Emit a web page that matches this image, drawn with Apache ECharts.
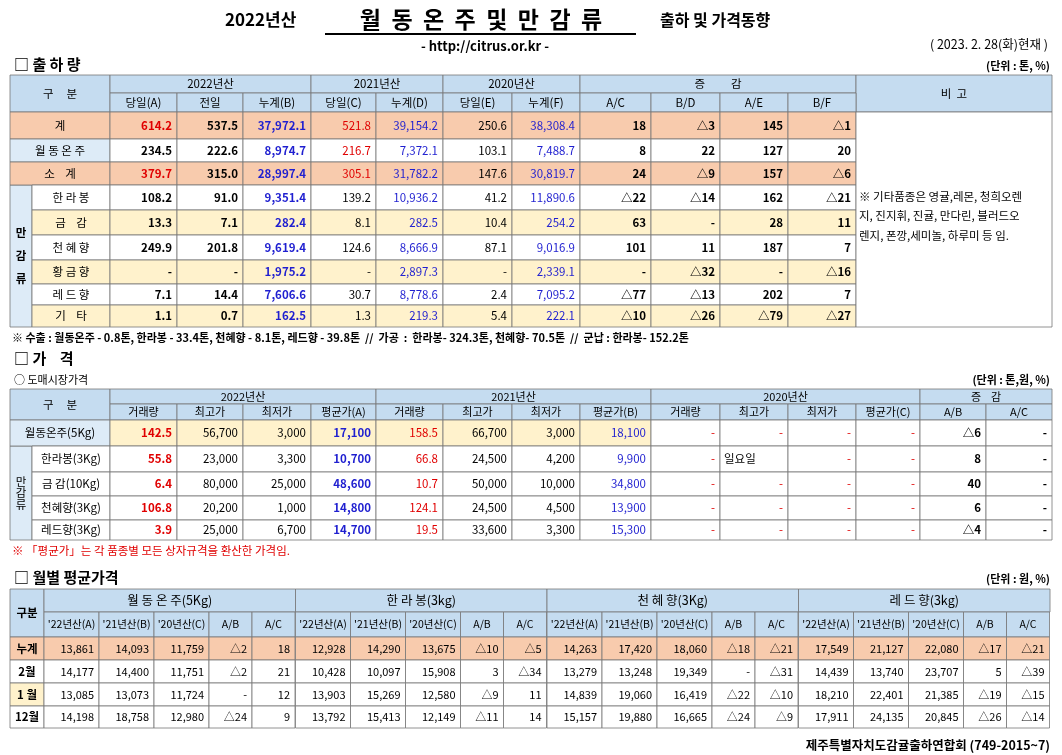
<!DOCTYPE html>
<html><head><meta charset="utf-8">
<script src="https://cdn.jsdelivr.net/npm/echarts@6/dist/echarts.min.js"></script>
<style>html,body{margin:0;background:#fff}#c{width:1062px;height:755px}</style>
</head><body><div id="c"></div>
<script>
// 출하량
const shipLabels = ['계', '월 동 온 주', '소    계', '한 라 봉', '금    감', '천 혜 향', '황 금 향', '레 드 향', '기    타'];
const shipHeaders = ['당일(A)', '전일', '누계(B)', '당일(C)', '누계(D)', '당일(E)', '누계(F)', 'A/C', 'B/D', 'A/E', 'B/F'];
const shipRows = [
  ['614.2', '537.5', '37,972.1', '521.8', '39,154.2', '250.6', '38,308.4', '18', '△3', '145', '△1'],
  ['234.5', '222.6', '8,974.7', '216.7', '7,372.1', '103.1', '7,488.7', '8', '22', '127', '20'],
  ['379.7', '315.0', '28,997.4', '305.1', '31,782.2', '147.6', '30,819.7', '24', '△9', '157', '△6'],
  ['108.2', '91.0', '9,351.4', '139.2', '10,936.2', '41.2', '11,890.6', '△22', '△14', '162', '△21'],
  ['13.3', '7.1', '282.4', '8.1', '282.5', '10.4', '254.2', '63', '-', '28', '11'],
  ['249.9', '201.8', '9,619.4', '124.6', '8,666.9', '87.1', '9,016.9', '101', '11', '187', '7'],
  ['-', '-', '1,975.2', '-', '2,897.3', '-', '2,339.1', '-', '△32', '-', '△16'],
  ['7.1', '14.4', '7,606.6', '30.7', '8,778.6', '2.4', '7,095.2', '△77', '△13', '202', '7'],
  ['1.1', '0.7', '162.5', '1.3', '219.3', '5.4', '222.1', '△10', '△26', '△79', '△27']
];
// 가격
const priceLabels = ['월동온주(5Kg)', '한라봉(3Kg)', '금 감(10Kg)', '천혜향(3Kg)', '레드향(3Kg)'];
const priceHeaders = ['거래량', '최고가', '최저가', '평균가(A)', '거래량', '최고가', '최저가', '평균가(B)', '거래량', '최고가', '최저가', '평균가(C)', 'A/B', 'A/C'];
const priceRows = [
  ['142.5', '56,700', '3,000', '17,100', '158.5', '66,700', '3,000', '18,100', '-', '-', '-', '-', '△6', '-'],
  ['55.8', '23,000', '3,300', '10,700', '66.8', '24,500', '4,200', '9,900', '-', '일요일', '-', '-', '8', '-'],
  ['6.4', '80,000', '25,000', '48,600', '10.7', '50,000', '10,000', '34,800', '-', '-', '-', '-', '40', '-'],
  ['106.8', '20,200', '1,000', '14,800', '124.1', '24,500', '4,500', '13,900', '-', '-', '-', '-', '6', '-'],
  ['3.9', '25,000', '6,700', '14,700', '19.5', '33,600', '3,300', '15,300', '-', '-', '-', '-', '△4', '-']
];
// 월별 평균가격
const monthLabels = ['누계', '2월', '1 월', '12월'];
const monthGroups = ['월 동 온 주(5Kg)', '한 라 봉(3kg)', '천 혜 향(3Kg)', '레 드 향(3kg)'];
const monthSub = ["'22년산(A)", "'21년산(B)", "'20년산(C)", 'A/B', 'A/C'];
const monthRows = [
  ['13,861', '14,093', '11,759', '△2', '18', '12,928', '14,290', '13,675', '△10', '△5', '14,263', '17,420', '18,060', '△18', '△21', '17,549', '21,127', '22,080', '△17', '△21'],
  ['14,177', '14,400', '11,751', '△2', '21', '10,428', '10,097', '15,908', '3', '△34', '13,279', '13,248', '19,349', '-', '△31', '14,439', '13,740', '23,707', '5', '△39'],
  ['13,085', '13,073', '11,724', '-', '12', '13,903', '15,269', '12,580', '△9', '11', '14,839', '19,060', '16,419', '△22', '△10', '18,210', '22,401', '21,385', '△19', '△15'],
  ['14,198', '18,758', '12,980', '△24', '9', '13,792', '15,413', '12,149', '△11', '14', '15,157', '19,880', '16,665', '△24', '△9', '17,911', '24,135', '20,845', '△26', '△14']
];

const FONT = '"Noto Sans CJK KR", sans-serif';
const HEAD = '#c5dcf0', PEACH = '#f8cbad', YEL = '#fff2cc', LBLUE = '#ddebf7';
const RED = '#e00000', BLUE = '#1f1fd0';
const g = [];
function cell(x, y, w, h, text, o) {
  o = o || {};
  g.push({ type: 'rect', shape: { x: x, y: y, width: w, height: h },
    style: { fill: o.bg || '#fff', stroke: '#777', lineWidth: 0.8 }, silent: true });
  if (text !== undefined && text !== '') {
    const al = o.align || 'center';
    g.push({ type: 'text', x: al === 'right' ? x + w - 5 : al === 'left' ? x + 4 : x + w / 2, y: y + h / 2,
      style: { text: text, fill: o.color || '#000', font: (o.bold ? 'bold ' : '') + (o.size || 11.5) + 'px ' + FONT,
        align: al, verticalAlign: 'middle' }, silent: true });
  }
}
function txt(x, y, s, o) {
  o = o || {};
  g.push({ type: 'text', x: x, y: y, style: { text: s, fill: o.color || '#000',
    font: (o.bold ? 'bold ' : '') + (o.size || 12) + 'px ' + FONT, align: o.align || 'left', verticalAlign: 'middle' }, silent: true });
}

// 제목
txt(225, 20, '2022년산', { size: 17, bold: true });
txt(481, 19, '월  동  온  주  및  만  감  류', { size: 23, bold: true, align: 'center' });
g.push({ type: 'line', shape: { x1: 325, y1: 34, x2: 636, y2: 34 }, style: { stroke: '#000', lineWidth: 2 }, silent: true });
txt(660, 20, '출하 및 가격동향', { size: 16, bold: true });
txt(485, 46, '- http://citrus.or.kr -', { size: 13, bold: true, align: 'center' });
txt(1048, 44, '( 2023. 2. 28(화)현재 )', { size: 12.5, align: 'right' });

// 출하량 표
txt(14, 64, '□ 출 하 량', { size: 15, bold: true });
txt(1050, 66, '(단위 : 톤, %)', { size: 11, bold: true, align: 'right' });
const c1 = [110, 177, 243, 311, 376, 443, 512, 580, 651, 720, 788, 856];
const r1 = [112, 139, 162, 185, 210, 235, 260, 284, 305, 327];
cell(10, 75, 100, 37, '구     분', { bg: HEAD });
cell(110, 75, 201, 18, '2022년산', { bg: HEAD });
cell(311, 75, 132, 18, '2021년산', { bg: HEAD });
cell(443, 75, 137, 18, '2020년산', { bg: HEAD });
cell(580, 75, 276, 18, '증          감', { bg: HEAD });
cell(856, 75, 196, 37, '비  고', { bg: HEAD });
shipHeaders.forEach((h, i) => cell(c1[i], 93, c1[i + 1] - c1[i], 19, h, { bg: HEAD }));
cell(10, 185, 22, 142, '만\n\n감\n\n류', { bg: LBLUE, bold: true });
shipRows.forEach((row, r) => {
  const y = r1[r], h = r1[r + 1] - r1[r];
  const tot = r === 0 || r === 2;
  const rowBg = tot ? PEACH : ([4, 6, 8].indexOf(r) >= 0 ? YEL : '#fff');
  if (r < 3) cell(10, y, 100, h, shipLabels[r], { bg: tot ? PEACH : LBLUE });
  else cell(32, y, 78, h, shipLabels[r], { bg: rowBg });
  row.forEach((v, i) => {
    let col = '#000';
    if (i === 0 && tot) col = RED;
    if (i === 3 && r < 3) col = RED;
    if (i === 2 || i === 4 || i === 6) col = BLUE;
    const bold = i < 3 || i >= 7;
    cell(c1[i], y, c1[i + 1] - c1[i], h, v, { bg: rowBg, color: col, bold: bold, align: 'right' });
  });
});
cell(856, 112, 196, 215, '');
txt(859, 197, '※ 기타품종은 영귤,레몬, 청희오렌', { size: 11.5 });
txt(859, 216, '지, 진지휘, 진귤, 만다린, 블러드오', { size: 11.5 });
txt(859, 236, '렌지, 폰깡,세미놀, 하루미 등 임.', { size: 11.5 });
txt(12, 338, '※ 수출 : 월동온주 - 0.8톤, 한라봉 - 33.4톤, 천혜향 - 8.1톤, 레드향 - 39.8톤  //  가공  :  한라봉- 324.3톤, 천혜향- 70.5톤  //  군납 : 한라봉- 152.2톤', { size: 11, bold: true });

// 가격 표
txt(14, 358, '□ 가    격', { size: 15, bold: true });
txt(14, 380, '○ 도매시장가격', { size: 11 });
txt(1050, 380, '(단위 : 톤,원, %)', { size: 11, bold: true, align: 'right' });
const c2 = [110, 177, 243, 311, 376, 443, 512, 580, 651, 720, 788, 856, 920, 986, 1052];
const r2 = [420, 446, 472, 496, 520, 540];
cell(10, 389, 100, 31, '구     분', { bg: HEAD });
cell(110, 389, 266, 15, '2022년산', { bg: HEAD, size: 11 });
cell(376, 389, 275, 15, '2021년산', { bg: HEAD, size: 11 });
cell(651, 389, 269, 15, '2020년산', { bg: HEAD, size: 11 });
cell(920, 389, 132, 15, '증    감', { bg: HEAD, size: 11 });
priceHeaders.forEach((h, i) => cell(c2[i], 404, c2[i + 1] - c2[i], 16, h, { bg: HEAD, size: 11 }));
cell(10, 446, 22, 94, '만\n감\n류', { bg: LBLUE });
priceRows.forEach((row, r) => {
  const y = r2[r], h = r2[r + 1] - r2[r];
  if (r === 0) cell(10, y, 100, h, priceLabels[r], { bg: LBLUE });
  else cell(32, y, 78, h, priceLabels[r]);
  row.forEach((v, i) => {
    let col = '#000', bold = false;
    if (i === 0) { col = RED; bold = true; }
    if (i === 3) { col = BLUE; bold = true; }
    if (i === 4) col = RED;
    if (i === 7) col = BLUE;
    if (i >= 8 && i <= 11 && v === '-') col = RED;
    if (i >= 12) bold = true;
    const bg = r === 0 && i < 8 ? YEL : '#fff';
    cell(c2[i], y, c2[i + 1] - c2[i], h, v, { bg: bg, color: col, bold: bold, align: i === 9 && v !== '-' ? 'left' : 'right' });
  });
});
txt(12, 551, '※ 「평균가」는 각 품종별 모든 상자규격을 환산한 가격임.', { size: 11.5, color: RED });

// 월별 평균가격 표
txt(14, 577, '□ 월별 평균가격', { size: 15, bold: true });
txt(1050, 579, '(단위 : 원, %)', { size: 11, bold: true, align: 'right' });
const subW = [55, 55, 55, 43, 43];
const r3 = [637, 660, 683, 706, 728];
cell(10, 589, 34, 48, '구분', { bg: HEAD, bold: true });
monthGroups.forEach((gname, k) => {
  const x0 = 44 + k * 251.5;
  cell(x0, 589, 251.5, 23, gname, { bg: HEAD, size: 12.5 });
  let x = x0;
  monthSub.forEach((s, j) => { cell(x, 612, subW[j], 25, s, { bg: HEAD, size: 10.5 }); x += subW[j]; });
});
monthRows.forEach((row, r) => {
  const y = r3[r], h = r3[r + 1] - r3[r];
  const rowBg = r === 0 ? PEACH : '#fff';
  cell(10, y, 34, h, monthLabels[r], { bg: r === 0 ? PEACH : r === 2 ? YEL : '#fff', bold: true });
  row.forEach((v, i) => {
    const k = Math.floor(i / 5), j = i % 5;
    let x = 44 + k * 251.5;
    for (let t = 0; t < j; t++) x += subW[t];
    cell(x, y, subW[j], h, v, { bg: rowBg, align: 'right', size: 11 });
  });
});
txt(1050, 745, '제주특별자치도감귤출하연합회 (749-2015~7)', { size: 12.5, bold: true, align: 'right' });

const chart = echarts.init(document.getElementById('c'));
chart.setOption({ animation: false, graphic: g });
</script>
</body></html>
